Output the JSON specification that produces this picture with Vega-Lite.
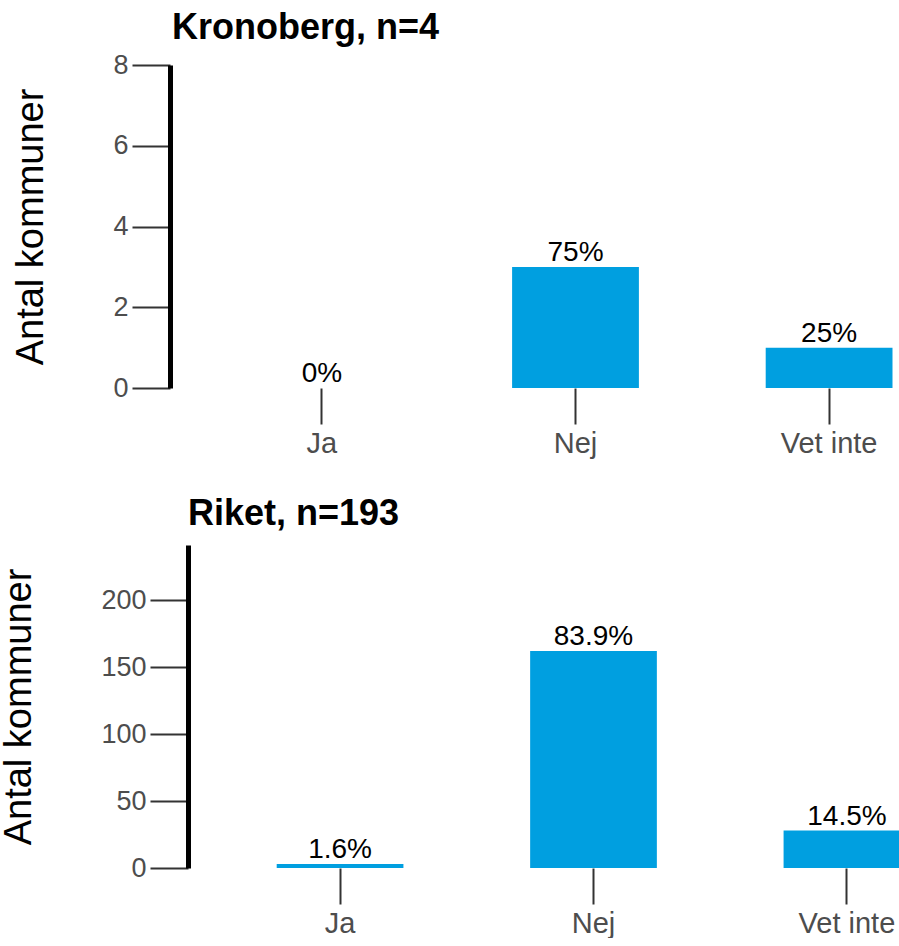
{
  "$schema": "https://vega.github.io/schema/vega-lite/v6.json",
  "background": "white",
  "padding": {"left": 0, "top": 10, "right": 0, "bottom": 0},
  "config": {
    "font": "Liberation Sans",
    "view": {"stroke": null},
    "axis": {"grid": false},
    "title": {"anchor": "start", "frame": "group", "fontSize": 36, "fontWeight": "bold", "color": "black", "font": "Liberation Sans"},
    "axisX": {"domain": false, "tickSize": 36, "tickColor": "#333333", "tickWidth": 2, "labelFontSize": 29, "labelColor": "#4D4D4D", "labelPadding": 5, "labelAngle": 0, "title": null},
    "axisY": {"domainColor": "black", "domainWidth": 5, "tickColor": "#333333", "tickWidth": 2, "tickSize": 38, "labelPadding": 4, "labelFontSize": 27, "labelColor": "#4D4D4D", "titleFontSize": 38, "titleFontWeight": "normal", "titleColor": "black"}
  },
  "spacing": 38,
  "vconcat": [
    {
      "title": {"text": "Kronoberg, n=4", "dx": -16, "offset": 4},
      "width": 775,
      "height": 323,
      "data": {"values": [
        {"svar": "Ja", "antal": 0, "etikett": "0%"},
        {"svar": "Nej", "antal": 3, "etikett": "75%"},
        {"svar": "Vet inte", "antal": 1, "etikett": "25%"}
      ]},
      "encoding": {
        "x": {"field": "svar", "type": "nominal", "sort": ["Ja", "Nej", "Vet inte"], "scale": {"paddingInner": 0.5, "paddingOuter": 0.278}},
        "y": {"field": "antal", "type": "quantitative", "scale": {"domain": [0, 8], "nice": false}, "axis": {"values": [0, 2, 4, 6, 8], "title": "Antal kommuner", "titlePadding": 62, "offset": 18}}
      },
      "layer": [
        {"mark": {"type": "bar", "color": "#009FE0"}},
        {"mark": {"type": "text", "dy": -6, "fontSize": 28, "color": "black", "baseline": "alphabetic"}, "encoding": {"text": {"field": "etikett"}}}
      ]
    },
    {
      "title": {"text": "Riket, n=193", "offset": 12},
      "width": 811,
      "height": 323,
      "data": {"values": [
        {"svar": "Ja", "antal": 3, "etikett": "1.6%"},
        {"svar": "Nej", "antal": 162, "etikett": "83.9%"},
        {"svar": "Vet inte", "antal": 28, "etikett": "14.5%"}
      ]},
      "encoding": {
        "x": {"field": "svar", "type": "nominal", "sort": ["Ja", "Nej", "Vet inte"], "scale": {"paddingInner": 0.5, "paddingOuter": 0.35}},
        "y": {"field": "antal", "type": "quantitative", "scale": {"domain": [0, 241.25], "nice": false}, "axis": {"values": [0, 50, 100, 150, 200], "title": "Antal kommuner", "titlePadding": 62}}
      },
      "layer": [
        {"mark": {"type": "bar", "color": "#009FE0"}},
        {"mark": {"type": "text", "dy": -6, "fontSize": 28, "color": "black", "baseline": "alphabetic"}, "encoding": {"text": {"field": "etikett"}}}
      ]
    }
  ]
}
